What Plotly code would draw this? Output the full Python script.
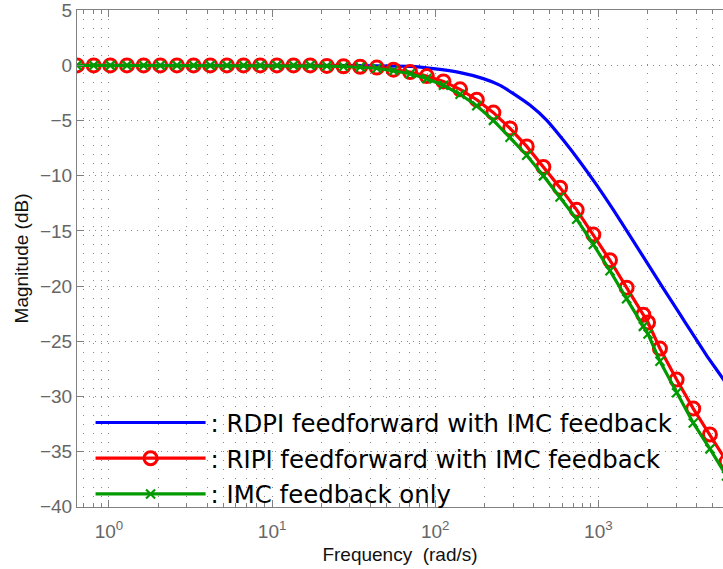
import plotly.graph_objects as go

# ---- data ----
freq_ff = [0.637, 0.806, 1.019, 1.289, 1.631, 2.063, 2.610, 3.301, 4.176, 5.283,
           6.683, 8.455, 10.70, 13.53, 17.12, 21.65, 27.39, 34.65, 43.84, 55.46,
           70.15, 88.75, 112.3, 142.0, 179.7, 227.3, 287.5, 363.8, 460.2, 582.2,
           736.2, 931.4, 1178, 1490, 1886, 2016, 2385, 3017, 3817, 4829, 6108]

ripi_db = [0, 0, 0, 0, 0, 0, 0, 0, 0, 0,
           0, 0, 0, 0, 0, -0.05, -0.08, -0.12, -0.2, -0.39,
           -0.61, -0.97, -1.45, -2.17, -3.11, -4.28, -5.71, -7.34, -9.21, -11.08,
           -13.09, -15.33, -17.66, -20.14, -22.6, -23.3, -25.66, -28.47, -31.1, -33.45, -35.9]

imc_db = [0, 0, 0, 0, 0, 0, 0, 0, 0, 0,
          0, 0, 0, 0, 0, -0.06, -0.1, -0.15, -0.26, -0.49,
          -0.76, -1.2, -1.8, -2.62, -3.66, -4.98, -6.51, -8.14, -10.01, -11.93,
          -13.94, -16.23, -18.61, -21.14, -23.65, -24.35, -26.81, -29.67, -32.4, -34.75, -37.2]

freq_rdpi = [0.637, 10, 31.6, 70.2, 97.5, 142.2, 197.2, 250.0, 301.3, 382.0,
             483.1, 611.0, 772.7, 977.2, 1236, 1563, 1982, 2500, 3162, 3733,
             4613, 5808, 6310]
rdpi_db = [0, 0, -0.02, -0.09, -0.30, -0.66, -1.20, -1.81, -2.56, -3.62,
           -4.98, -6.79, -8.75, -10.85, -13.1, -15.45, -17.85, -20.2, -22.55, -24.2,
           -26.3, -28.4, -29.25]

names = [": RDPI feedforward with IMC feedback",
         ": RIPI feedforward with IMC feedback",
         ": IMC feedback only"]

x_tick_vals = [1, 10, 100, 1000]
x_tick_text = ["10<sup>0</sup>", "10<sup>1</sup>", "10<sup>2</sup>", "10<sup>3</sup>"]
x_minor_vals = [0.7, 0.8, 0.9, 2, 3, 4, 5, 6, 7, 8, 9,
                20, 30, 40, 50, 60, 70, 80, 90,
                200, 300, 400, 500, 600, 700, 800, 900,
                2000, 3000, 4000, 5000]
y_tick_vals = [5, 0, -5, -10, -15, -20, -25, -30, -35, -40]

fig = go.Figure()
fig.add_trace(go.Scatter(x=freq_rdpi, y=rdpi_db, mode="lines", name=names[0],
                         legendgroup="a",
                         line=dict(color="#0000ff", width=3.2, shape="spline", smoothing=0.5)))
fig.add_trace(go.Scatter(x=freq_ff, y=ripi_db, mode="lines+markers", name=names[1],
                         legendgroup="b",
                         line=dict(color="#ff0000", width=3.2),
                         marker=dict(symbol="circle-open", size=13, color="#ff0000",
                                     line=dict(width=3, color="#ff0000"))))
fig.add_trace(go.Scatter(x=freq_ff, y=imc_db, mode="lines+markers", name=names[2],
                         legendgroup="c",
                         line=dict(color="#009a00", width=3.2),
                         marker=dict(symbol="x-thin", size=9, color="#009a00",
                                     line=dict(width=2.2, color="#009a00"))))

axis_col = "#808080"
grid_col = "#8c8c8c"
tick_font = dict(family="Liberation Sans", size=19, color="#666666")
title_font = dict(family="Liberation Sans", size=19, color="#111111")

fig.update_layout(
    width=723, height=569,
    margin=dict(l=77, r=0, t=10, b=62),
    paper_bgcolor="white", plot_bgcolor="white",
    showlegend=True,
    legend=dict(x=0.021, y=0.215, xanchor="left", yanchor="top",
                bgcolor="rgba(0,0,0,0)", borderwidth=0,
                font=dict(family="DejaVu Sans", size=24.4, color="black"),
                itemwidth=110, tracegroupgap=1, traceorder="grouped"),
    xaxis=dict(type="log", range=[-0.196, 3.764],
               tickmode="array", tickvals=x_tick_vals, ticktext=x_tick_text,
               ticks="inside", ticklen=7, tickcolor=axis_col,
               showline=True, linecolor=axis_col, linewidth=1, mirror="allticks",
               showgrid=True, gridcolor=grid_col, gridwidth=1, griddash="1px,8px",
               minor=dict(tickmode="array", tickvals=x_minor_vals, ticks="inside",
                          ticklen=4, tickcolor=axis_col, showgrid=True,
                          gridcolor=grid_col, gridwidth=1, griddash="1px,8px"),
               tickfont=tick_font, ticklabelstandoff=7, ticklabeloverflow="allow",
               title=dict(text="Frequency  (rad/s)", font=title_font, standoff=6),
               zeroline=False),
    yaxis=dict(range=[-40.02, 5.02], tickmode="array", tickvals=y_tick_vals,
               ticks="inside", ticklen=7, tickcolor=axis_col,
               showline=True, linecolor=axis_col, linewidth=1, mirror=False,
               showgrid=True, gridcolor=grid_col, gridwidth=1, griddash="1px,5px",
               tickfont=tick_font, ticklabeloverflow="allow",
               title=dict(text="Magnitude (dB)", font=title_font, standoff=6),
               zeroline=False),
)

fig.write_html("out.html")
